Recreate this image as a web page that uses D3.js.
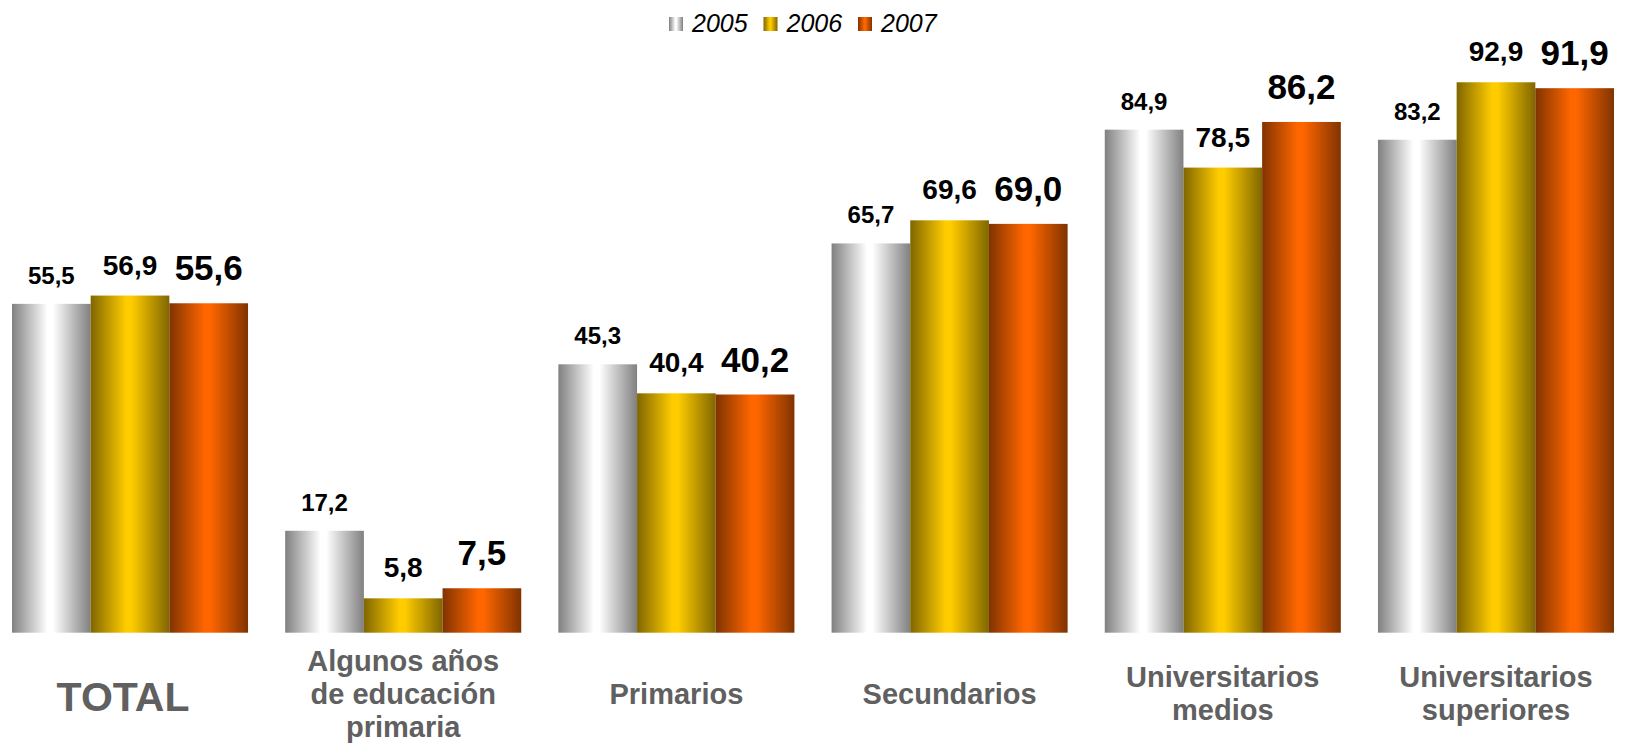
<!DOCTYPE html>
<html>
<head>
<meta charset="utf-8">
<script src="https://cdn.jsdelivr.net/npm/d3@7"></script>
<style>
  body { margin: 0; background: #fff; }
  svg { display: block; font-family: Arial, "Liberation Sans", sans-serif; }
</style>
</head>
<body>
<svg id="chart" width="1625" height="744"></svg>
<script>
// data
var categories = ["TOTAL", "Algunos años de educación primaria", "Primarios",
    "Secundarios", "Universitarios medios", "Universitarios superiores"];
var categoryLines = [["TOTAL"], ["Algunos años", "de educación", "primaria"], ["Primarios"],
    ["Secundarios"], ["Universitarios", "medios"], ["Universitarios", "superiores"]];
var years = ["2005", "2006", "2007"];
var values2005 = [55.5, 17.2, 45.3, 65.7, 84.9, 83.2];
var values2006 = [56.9, 5.8, 40.4, 69.6, 78.5, 92.9];
var values2007 = [55.6, 7.5, 40.2, 69.0, 86.2, 91.9];

var seriesValues = [values2005, values2006, values2007];
// gradient edge / centre colours per year
var edgeColors = ["#808080", "#806600", "#803300"];
var midColors = ["#ffffff", "#ffcc00", "#ff6600"];
var labelSizes = [24, 28, 35];
var labelGaps = [20, 21, 23];

var svg = d3.select("#chart");

var x0 = d3.scaleBand()
    .domain(categories)
    .range([12, 1614])
    .paddingInner(0.136)
    .paddingOuter(0);

var x1 = d3.scaleBand()
    .domain(years)
    .range([0, x0.bandwidth()])
    .padding(0);

var y = d3.scaleLinear()
    .domain([0, 100])
    .range([632.7, 40.2]);

var fmt = function (v) { return d3.format(".1f")(v).replace(".", ","); };

// horizontal "cylinder" gradients
var defs = svg.append("defs");
years.forEach(function (yr, i) {
    var g = defs.append("linearGradient")
        .attr("id", "grad" + yr)
        .attr("x1", "0%").attr("x2", "100%")
        .attr("y1", "0%").attr("y2", "0%");
    g.append("stop").attr("offset", "0%").attr("stop-color", edgeColors[i]);
    g.append("stop").attr("offset", "45%").attr("stop-color", midColors[i]);
    g.append("stop").attr("offset", "52%").attr("stop-color", midColors[i]);
    g.append("stop").attr("offset", "100%").attr("stop-color", edgeColors[i]);
});

var rows = categories.map(function (c, ci) {
    return { cat: c, lines: categoryLines[ci], vals: seriesValues.map(function (s) { return s[ci]; }) };
});

var groups = svg.selectAll("g.group")
    .data(rows)
    .enter().append("g")
    .attr("class", "group")
    .attr("transform", function (d) { return "translate(" + x0(d.cat) + ",0)"; });

var cells = groups.selectAll("g.cell")
    .data(function (d) {
        return d.vals.map(function (v, i) { return { year: years[i], i: i, v: v }; });
    })
    .enter().append("g")
    .attr("class", "cell");

cells.append("rect")
    .attr("x", function (d) { return x1(d.year); })
    .attr("y", function (d) { return y(d.v); })
    .attr("width", x1.bandwidth())
    .attr("height", function (d) { return y(0) - y(d.v); })
    .attr("fill", function (d) { return "url(#grad" + d.year + ")"; });

cells.append("text")
    .attr("x", function (d) { return x1(d.year) + x1.bandwidth() / 2; })
    .attr("y", function (d) { return y(d.v) - labelGaps[d.i]; })
    .attr("text-anchor", "middle")
    .attr("font-weight", "bold")
    .attr("font-size", function (d) { return labelSizes[d.i] + "px"; })
    .attr("fill", "#000")
    .text(function (d) { return fmt(d.v); });

// category labels under the groups
var lineH = 33, midBase = 703.5;
groups.each(function (d) {
    var g = d3.select(this);
    var cx = x0.bandwidth() / 2;
    if (d.cat === "TOTAL") {
        g.append("text")
            .attr("x", cx - 7)
            .attr("y", 711)
            .attr("text-anchor", "middle")
            .attr("font-weight", "bold")
            .attr("font-size", "41px")
            .attr("fill", "#606060")
            .text(d.lines[0]);
        return;
    }
    var n = d.lines.length;
    var t = g.append("text")
        .attr("text-anchor", "middle")
        .attr("font-weight", "bold")
        .attr("font-size", "29px")
        .attr("fill", "#606060");
    d.lines.forEach(function (ln, k) {
        t.append("tspan")
            .attr("x", cx)
            .attr("y", midBase + (k - (n - 1) / 2) * lineH)
            .text(ln);
    });
});

// legend
var legend = svg.append("g").attr("transform", "translate(669,0)");
var items = legend.selectAll("g")
    .data(years)
    .enter().append("g")
    .attr("transform", function (d, i) { return "translate(" + (i * 94.5) + ",0)"; });
items.append("rect")
    .attr("x", 0).attr("y", 17)
    .attr("width", 14).attr("height", 14)
    .attr("fill", function (d) { return "url(#grad" + d + ")"; });
items.append("text")
    .attr("x", 23).attr("y", 32)
    .attr("font-size", "25px")
    .attr("font-style", "italic")
    .attr("fill", "#000")
    .text(function (d) { return d; });
</script>
</body>
</html>
